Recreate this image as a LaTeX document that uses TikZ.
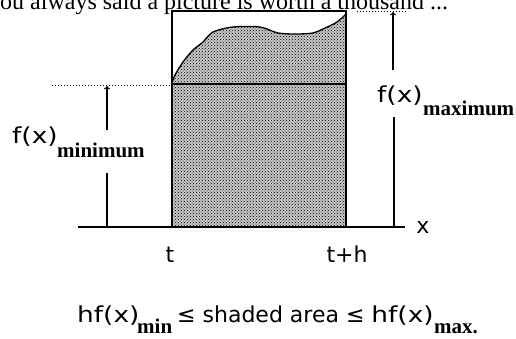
\documentclass[tikz,border=0pt]{standalone}
\usepackage{fontspec}
\setmainfont{Liberation Serif}
\newfontfamily\macfont{DejaVu Sans}
\usepackage{tikz}
\usetikzlibrary{patterns}

\tikzset{
  lbl/.style={font=\macfont\fontsize{22}{24}\selectfont, inner sep=0pt},
  sublbl/.style={font=\bfseries\fontsize{21}{24}\selectfont, inner sep=0pt},
  borde/.style={line width=2pt},
  guia/.style={dotted, line width=1pt}
}
\newcommand{\anchof}[1]{\scalebox{1.2}[1]{#1}}

\begin{document}
\begin{tikzpicture}[x=1pt, y=-1pt]
			\useasboundingbox (0,0) rectangle (516,338);
			
			% Texto superior
			\node[anchor=base west, inner sep=0pt, font=\fontsize{24}{26}\selectfont] (titulo) at (0,9.5) {ou always said a picture is worth a thousand ...};
			
			% Puntos
			\coordinate (t) at (172,227);
			\coordinate (th) at (346,227);
			\coordinate (tsup) at (172,11);
			\coordinate (thsup) at (346,11);
			\coordinate (tmin) at (172,84);
			\coordinate (thmin) at (346,84);
			
			% Área sombreada
			\fill[black!22] (t) -- plot[smooth, tension=0.5] coordinates {(172,83) (175,75) (183,62) (193,50) (203,42) (213,32) (233,27) (260,27) (278,33) (297,34) (313,33) (323,29) (337,22) (346,14)} -- (th) -- cycle;
			\fill[pattern=crosshatch dots, pattern color=black] (t) -- plot[smooth, tension=0.5] coordinates {(172,83) (175,75) (183,62) (193,50) (203,42) (213,32) (233,27) (260,27) (278,33) (297,34) (313,33) (323,29) (337,22) (346,14)} -- (th) -- cycle;
			\draw[line width=1.3pt] plot[smooth, tension=0.5] coordinates {(172,83) (175,75) (183,62) (193,50) (203,42) (213,32) (233,27) (260,27) (278,33) (297,34) (313,33) (323,29) (337,22) (346,14)};
			
			% Rectángulo y eje
			\draw[borde] (t) -- (tsup) -- (thsup) -- (th);
			\draw[borde] (tmin) -- (thmin);
			\coordinate (ejeizq) at (78,227);
			\coordinate (ejeder) at (405,227);
			\draw[borde] (ejeizq) -- (ejeder);
			\node[lbl] (x) at (423,227) {x};
			\node[lbl] (tlbl) at (170,255) {t};
			\node[lbl] (thlbl) at (347,254) {t+h};
			
			% Mínimo
			\coordinate (minizq) at (52,85);
			\coordinate (minder) at (170,85);
			\draw[guia] (minizq) -- (minder);
			\coordinate (minpunta) at (107,86);
			\coordinate (minarr) at (107,130);
			\coordinate (minab) at (107,173);
			\coordinate (minbase) at (107,227);
			\draw[line width=1.2pt, ->] (minarr) -- (minpunta);
			\draw[line width=1.2pt] (minab) -- (minbase);
			\node[lbl, anchor=base west] (fmin) at (12,143) {\anchof{f(x)}};
			\node[sublbl, anchor=base west] (fminsub) at (57,157) {minimum};
			
			% Máximo
			\coordinate (maxizq) at (357,11);
			\coordinate (maxder) at (407,11);
			\draw[guia] (maxizq) -- (maxder);
			\coordinate (maxpunta) at (393,12);
			\coordinate (maxarr) at (393,70);
			\coordinate (maxab) at (394,117);
			\coordinate (maxbase) at (394,227);
			\draw[line width=1.2pt, ->] (maxarr) -- (maxpunta);
			\draw[line width=1.2pt] (maxab) -- (maxbase);
			\node[lbl, anchor=base west] (fmax) at (377,102) {\anchof{f(x)}};
			\node[sublbl, anchor=base west] (fmaxsub) at (423,115) {maximum};
			
			% Desigualdad
			\node[lbl, anchor=base west] (hmin) at (77,322) {\anchof{hf(x)}};
			\node[sublbl, anchor=base west] (hminsub) at (137,333) {min};
			\node[lbl, anchor=base west] (area) at (177,322) {≤ shaded area ≤ \anchof{hf(x)}};
			\node[sublbl, anchor=base west] (hmaxsub) at ([yshift=-11pt]area.base east) {max.};
		\end{tikzpicture}
\end{document}
